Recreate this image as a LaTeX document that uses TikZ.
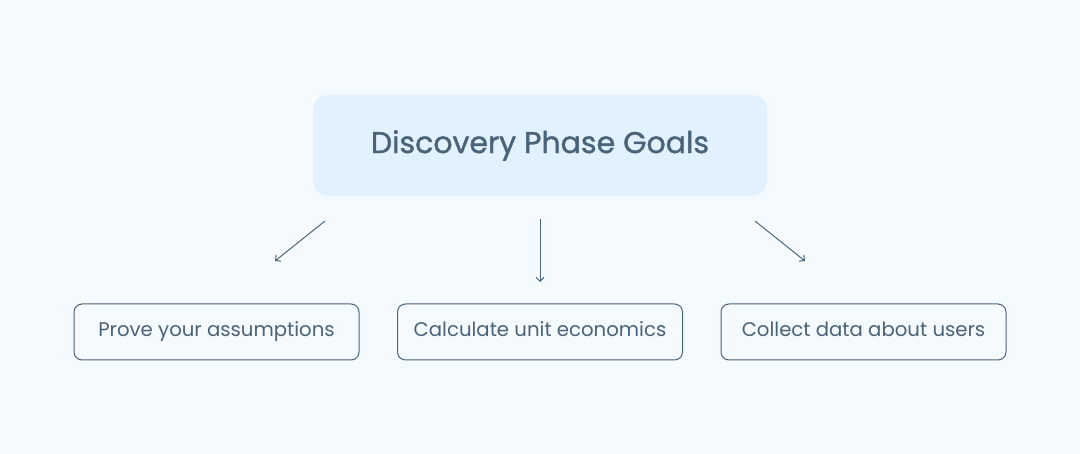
\documentclass[tikz,border=0pt]{standalone}
\usepackage{fontspec}
\setmainfont{Poppins}
\newfontfamily\goalfont[FakeBold=1.2]{Poppins}
\usetikzlibrary{positioning}
\usetikzlibrary{arrows.meta}
\definecolor{bgblue}{HTML}{F5FAFF}
\definecolor{goalfill}{HTML}{E1F1FD}
\definecolor{slate}{HTML}{4A6378}

\begin{document}
\begin{tikzpicture}[x=1pt ,y=-1pt ,node distance =186.5pt and 323.5pt ,on grid ,
    arr/.style ={-{Straight Barb[length=4pt,width=8pt]}, slate, line width=1pt},
    goal/.style ={ rectangle ,rounded corners=15pt ,fill=goalfill , text=slate ,
    font=\goalfont\fontsize{30}{36}\selectfont ,minimum width =454pt, minimum height = 101pt},
    task/.style ={ rectangle ,rounded corners=8pt ,fill=bgblue ,draw=slate ,line width=1pt ,
    text=slate ,font=\fontsize{19.7}{24}\selectfont ,text height=14pt ,text depth=4pt ,
    minimum width =285pt, minimum height = 56pt}]
    \useasboundingbox[fill=bgblue] (0,0) rectangle (1080,454);
    \node[goal] (G) at (540,145.5) {Discovery Phase Goals};
    \node[task] (C) [below =of G] {Calculate unit economics};
    \node[task] (P) [left =of C] {Prove your assumptions};
    \node[task] (D) [right =of C] {Collect data about users};
    % arrow ends
    \coordinate (p1) at (325,221);
    \coordinate (p2) at (275,261);
    \coordinate (c1) at (540,219);
    \coordinate (c2) at (540,282);
    \coordinate (d1) at (755,221);
    \coordinate (d2) at (805,261);
    \draw[arr] (p1) -- (p2);
    \draw[arr] (c1) -- (c2);
    \draw[arr] (d1) -- (d2);
\end{tikzpicture}
\end{document}
